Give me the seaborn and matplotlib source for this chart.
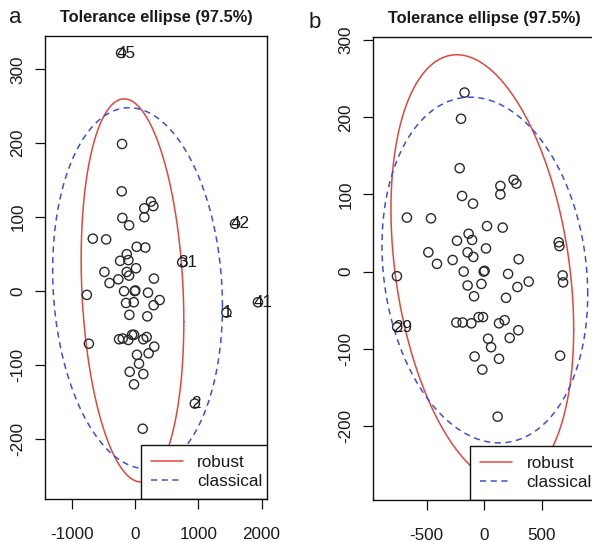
import numpy as np
import pandas as pd
import matplotlib
matplotlib.use("Agg")
import matplotlib.pyplot as plt
import seaborn as sns

# ---------------- data: panel a ----------------
a_x = [-205, -210, 252, 289, 147, 147, -200, -94, -667, -456, 26, 163, -131, -236, -105,
       16, -483, -131, -94, -263, -403, 299, -761, -173, -5, 5, 205, -142, -20, 389, 294,
       -89, 194, -729, -252, -194, -105, -47, -16, 131, 184, 304, 31, 215, 63, -84, 131,
       -16, 121,
       -220, 1580, 1942, 1444, 745, 945]
a_y = [199, 135, 121, 115, 112, 100, 99, 89, 71, 70, 60, 59, 50, 41, 42,
       31, 26, 26, 21, 16, 11, 17, -5, 0, 0, 1, -2, -16, -15, -12, -19,
       -32, -34, -71, -65, -64, -66, -59, -59, -65, -62, -75, -86, -84, -98, -109, -112,
       -126, -186,
       322, 91, -15, -29, 39, -152]
a_labels = [""] * 49 + ["45", "42", "41", "1", "31", "2"]

# ---------------- data: panel b ----------------
b_x = [-169, -200, -212, 257, 281, 142, 142, -191, -96, -670, -461, 26, 162, -134, -235,
       -104, 649, 655, -484, -143, 17, -93, -409, -273, 301, -757, -177, -3, 5, 209, 683,
       687, -143, -23, 388, 290, -87, 191, -755, -241, -186, -110, -47, -9, 130, 179, 298,
       35, 223, 61, -82, 130, 661, -15, 118]
b_y = [232, 198, 134, 119, 114, 111, 100, 98, 88, 70, 69, 59, 57, 49, 40,
       41, 38, 33, 25, 25, 30, 19, 10, 15, 16, -6, 0, 0, 1, -3, -5,
       -14, -18, -16, -13, -20, -32, -34, -72, -66, -66, -67, -59, -59, -67, -63, -76,
       -87, -86, -98, -110, -113, -109, -127, -188]
b_labels = [""] * 38 + ["29"] + [""] * 16

# ellipse parameters: centre x, centre y, half-range x, half-range y, correlation
a_robust = [-40, 1, 811, 259, -0.163]
a_classical = [40, 4, 1341, 244, -0.10]
b_robust = [-15, 3, 794, 278, -0.28]
b_classical = [7, 2, 894, 224, -0.14]

legend_labels = ["robust", "classical"]
title_text = "Tolerance ellipse (97.5%)"
a_xticks = [-1000, 0, 1000, 2000]
a_yticks = [-200, -100, 0, 100, 200, 300]
b_xticks = [-500, 0, 500]
b_yticks = [-200, -100, 0, 100, 200, 300]

# ---------------- style ----------------
sns.set_theme(style="ticks")
plt.rcParams['font.family'] = ['Liberation Sans', 'DejaVu Sans']
plt.rcParams['axes.unicode_minus'] = False

RED = "#e2463d"
BLUE = "#3b4fe0"
TXT = "#1a1a1a"
FS = 12.3

fig = plt.figure(figsize=(5.92, 5.42), dpi=100)
W, H = 592, 542


def ax_at(l, t, r, b):
    return fig.add_axes([l / W, 1 - b / H, (r - l) / W, (b - t) / H])


def ellipse(p):
    t = np.linspace(0, 2 * np.pi, 400)
    mx, my, a, b, rho = p
    return mx + a * np.cos(t), my + b * (rho * np.cos(t) + np.sqrt(1 - rho ** 2) * np.sin(t))


def panel(ax, xs, ys, labels, rob, cla, xlim, ylim, xticks, yticks, width_px):
    df = pd.DataFrame({"x": xs, "y": ys})
    sns.scatterplot(data=df, x="x", y="y", ax=ax, marker="o", s=44,
                    facecolor="none", edgecolor="#2a2a2a", linewidth=1.0, zorder=3)
    for xv, yv, lab in zip(xs, ys, labels):
        if lab:
            t = ax.annotate(lab, (xv, yv), xytext=(-3, 0), textcoords="offset points",
                            ha="left", va="center", fontsize=FS, color=TXT,
                            annotation_clip=False, zorder=4)
            t.set_clip_on(True)
    ex, ey = ellipse(rob)
    ax.plot(ex, ey, color=RED, lw=1.1, label=legend_labels[0], zorder=2)
    ex, ey = ellipse(cla)
    ax.plot(ex, ey, color=BLUE, lw=1.1, ls=(0, (4, 3)), label=legend_labels[1], zorder=2)
    ax.set_xlim(*xlim)
    ax.set_ylim(*ylim)
    ax.set_xticks(xticks)
    ax.set_yticks(yticks)
    ax.set_xticklabels([str(v) for v in xticks])
    ax.set_yticklabels([str(v) for v in yticks], rotation=90, va="center")
    ax.set_xlabel("")
    ax.set_ylabel("")
    for s in ax.spines.values():
        s.set_visible(True)
        s.set_color("#111111")
        s.set_linewidth(1.0)
        s.set_zorder(6)
    ax.tick_params(axis="both", direction="out", length=7.5, width=0.9, color="#111111",
                   labelsize=FS, labelcolor=TXT)
    ax.tick_params(axis="x", pad=12.5)
    ax.tick_params(axis="y", pad=6.5)
    ax.set_title(title_text, fontsize=11.8, fontweight="bold", color=TXT, pad=10)
    leg = ax.legend(loc="lower right", bbox_to_anchor=(1 + 6 / width_px, 0),
                    borderaxespad=0, fancybox=False, frameon=True,
                    edgecolor="#111111", fontsize=FS, handlelength=1.85, handletextpad=0.85,
                    labelspacing=0.2, borderpad=0.6)
    fr = leg.get_frame()
    fr.set_linewidth(1.0)
    fr.set_alpha(1)
    fr.set_clip_box(ax.bbox)
    fr.set_clip_on(True)
    leg.set_zorder(5)
    for t in leg.get_texts():
        t.set_color(TXT)
    ax.grid(False)


ax1 = ax_at(45, 36, 267, 499)
panel(ax1, a_x, a_y, a_labels, a_robust, a_classical,
      (-1422, 2085), (-281, 345), a_xticks, a_yticks, 222)

ax2 = ax_at(373, 37, 596, 500)
panel(ax2, b_x, b_y, b_labels, b_robust, b_classical,
      (-965, 973), (-296, 304), b_xticks, b_yticks, 223)

fig.text(9 / W, 1 - 22.7 / H, "a", fontsize=16, color=TXT, ha="left", va="baseline")
fig.text(309 / W, 1 - 28 / H, "b", fontsize=16, color=TXT, ha="left", va="baseline")

fig.savefig("out.png", dpi=100)
